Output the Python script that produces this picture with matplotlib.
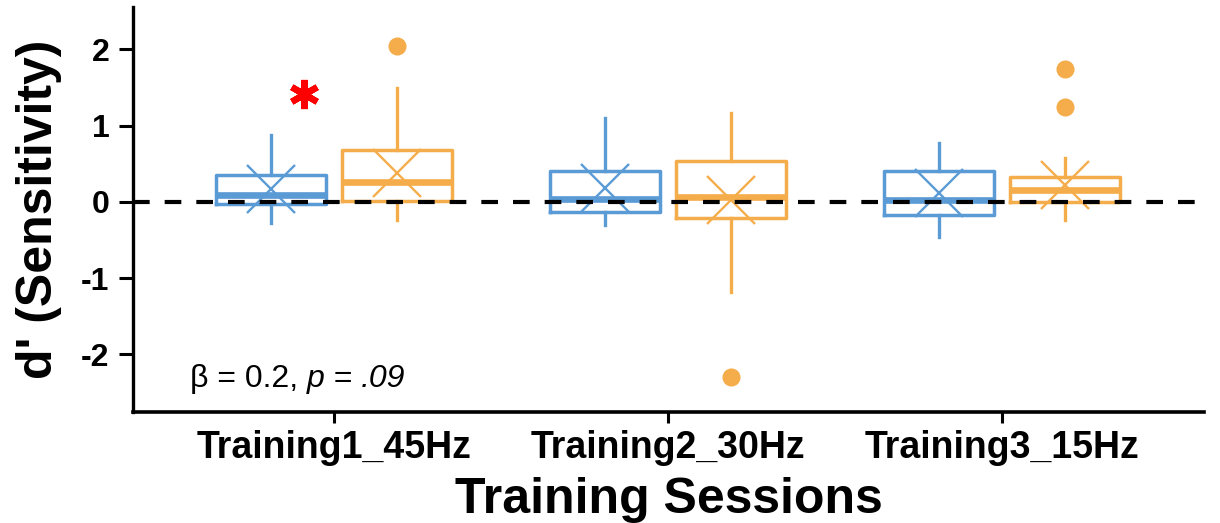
import matplotlib
matplotlib.use('Agg')
import matplotlib.pyplot as plt
from matplotlib.offsetbox import TextArea, HPacker, AnnotationBbox

plt.rcParams['font.family'] = ['Liberation Sans', 'DejaVu Sans']

sessions = ['Training1_45Hz', 'Training2_30Hz', 'Training3_15Hz']

# 青 (1本目) の箱ひげの要約値
blue_low = [-0.28, -0.30, -0.46]
blue_q1 = [-0.03, -0.13, -0.17]
blue_med = [0.09, 0.04, 0.02]
blue_q3 = [0.35, 0.41, 0.40]
blue_high = [0.88, 1.10, 0.77]
blue_mean = [0.17, 0.18, 0.11]
blue_out = [[], [], []]

# オレンジ (2本目)
orange_low = [-0.24, -1.18, -0.24]
orange_q1 = [0.01, -0.21, 0.00]
orange_med = [0.26, 0.07, 0.155]
orange_q3 = [0.68, 0.53, 0.32]
orange_high = [1.49, 1.17, 0.57]
orange_mean = [0.38, 0.03, 0.22]
orange_out = [[2.05], [-2.30], [1.75, 1.24]]

blue = '#5b9bd5'
orange = '#f5ad4b'


def make_stats(low, q1, med, q3, high, mean, out):
    stats = []
    for i in range(len(low)):
        stats.append({'whislo': low[i], 'q1': q1[i], 'med': med[i], 'q3': q3[i],
                      'whishi': high[i], 'mean': mean[i], 'fliers': out[i]})
    return stats


def draw(ax, stats, positions, color):
    ax.bxp(stats, positions=positions, widths=0.33, showmeans=True, showcaps=False,
           boxprops={'color': color, 'linewidth': 2.5},
           whiskerprops={'color': color, 'linewidth': 2.4},
           medianprops={'color': color, 'linewidth': 4.8, 'solid_capstyle': 'butt'},
           meanprops={'marker': 'x', 'markeredgecolor': color, 'markersize': 34,
                      'markeredgewidth': 1.7},
           flierprops={'marker': 'o', 'markerfacecolor': color, 'markeredgecolor': color,
                       'markersize': 12})


fig = plt.figure(figsize=(12.2, 5.23), dpi=100)
ax = fig.add_axes([0.109, 0.212, 0.878, 0.775])

x = [1, 2, 3]
draw(ax, make_stats(blue_low, blue_q1, blue_med, blue_q3, blue_high, blue_mean, blue_out),
     [i - 0.189 for i in x], blue)
draw(ax, make_stats(orange_low, orange_q1, orange_med, orange_q3, orange_high, orange_mean, orange_out),
     [i + 0.189 for i in x], orange)

# 0 の破線は箱の上に重ねる
ax.axhline(0, color='black', linewidth=3, linestyle=(0, (4, 3.6)), zorder=5)

# 有意差の印 (6本腕のアスタリスク)
ax.plot([0.91], [1.42], marker=(6, 2, 0), color='red', markersize=21, markeredgewidth=4.6)

# β と p の一部だけ斜体にしたいので TextArea を横に並べる
parts = [('β = 0.2, ', 'normal'), ('p', 'italic'), (' = ', 'normal'), ('.09', 'italic')]
areas = [TextArea(s, textprops={'fontsize': 23, 'fontstyle': st}) for s, st in parts]
pack = HPacker(children=areas, align='baseline', pad=0, sep=0)
ab = AnnotationBbox(pack, (0.569, -2.33), box_alignment=(0, 0.5), frameon=False)
ax.add_artist(ab)

ax.set_xlim(0.398, 3.605)
ax.set_ylim(-2.76, 2.56)
ax.set_xticks(x)
ax.set_xticklabels(sessions, fontsize=27, fontweight='bold')
ax.set_yticks([-2, -1, 0, 1, 2])
ax.set_yticklabels(['-2', '-1', '0', '1', '2'], fontsize=23, fontweight='bold')
ax.tick_params(axis='x', length=8, width=2.2, pad=5)
ax.tick_params(axis='y', length=10, width=2.2, pad=7)

ax.set_xlabel('Training Sessions', fontsize=36, fontweight='bold', labelpad=8)
ax.set_ylabel("d' (Sensitivity)", fontsize=36, fontweight='bold', labelpad=14)

for side in ['top', 'right']:
    ax.spines[side].set_visible(False)
ax.spines['left'].set_linewidth(2.4)
ax.spines['bottom'].set_linewidth(2.6)

fig.savefig('out.png', dpi=100)
